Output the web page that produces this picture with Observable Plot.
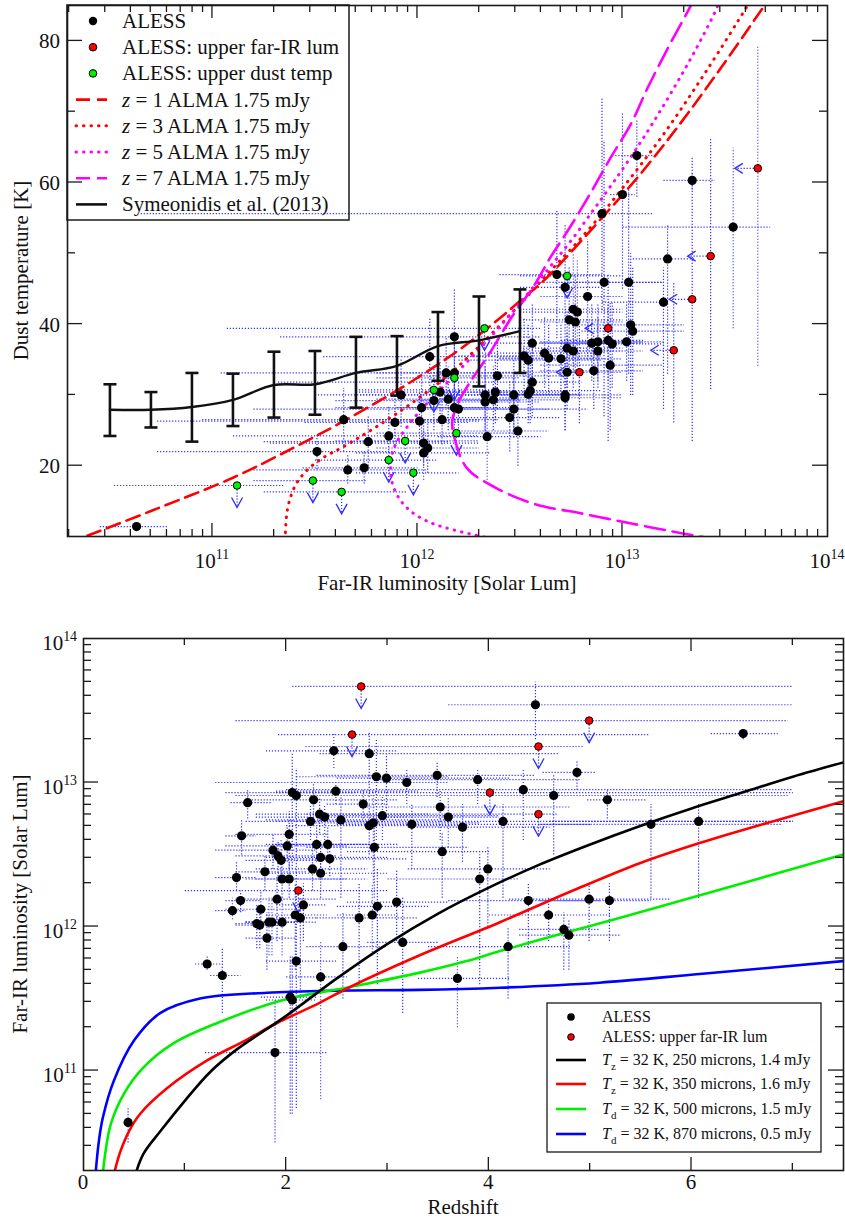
<!DOCTYPE html>
<html><head><meta charset="utf-8">
<script src="https://cdn.jsdelivr.net/npm/d3@7"></script>
<script src="https://cdn.jsdelivr.net/npm/@observablehq/plot@0.6"></script>
<style>
body{margin:0;background:#fff}
#c{width:845px;height:1219px;position:relative}
#c svg{display:block}
</style>
</head><body><div id="c"></div>
<script>
// ================= TOP PANEL DATA =================
// ALESS detections: [log10 L_FIR, T_dust, log10 L lo, log10 L hi, T lo, T hi]
const topDet = [
[10.63,11.4,10.45,10.78,11.0,11.8],[11.51,22.0,10.73,11.9,19.5,24.5],[11.66,19.4,11.2,12.05,17.5,21.5],
[11.74,19.7,11.44,12.0,17.5,22.0],[11.64,26.5,10.95,12.3,22.0,31.0],[11.76,23.4,11.25,12.15,20.0,27.0],
[11.86,24.2,11.1,12.3,20.5,28.5],[11.89,26.1,11.45,12.25,22.5,30.0],[11.92,30.0,11.5,12.4,25.5,35.0],
[12.02,28.2,11.6,12.35,24.0,32.5],[12.01,26.3,10.73,12.3,22.5,30.5],[12.03,23.2,11.28,12.3,20.0,26.5],
[12.05,22.5,11.8,12.3,19.0,26.0],[12.03,21.8,11.7,12.35,18.0,25.0],[12.08,29.2,11.6,12.5,25.0,34.0],
[12.06,35.4,11.54,12.5,30.0,41.0],[12.11,30.4,11.7,12.45,26.0,35.0],[12.14,33.1,11.8,12.5,28.5,38.0],
[12.15,29.4,11.8,12.5,25.0,34.0],[12.12,26.5,11.8,12.4,23.0,30.0],[12.18,38.2,11.33,12.6,32.0,45.0],
[12.18,33.1,11.04,12.5,28.0,38.0],[12.18,28.2,11.9,12.5,24.0,33.0],[12.20,28.0,11.2,12.64,24.0,32.0],
[12.33,30.0,11.72,12.7,25.0,36.0],[12.33,29.0,12.0,12.6,24.0,34.0],[12.34,24.1,12.1,12.6,18.0,30.0],
[12.37,29.3,12.0,12.7,25.0,34.0],[12.38,30.4,12.1,12.7,26.0,35.0],[12.39,32.7,12.0,12.7,28.0,38.0],
[12.47,30.0,12.1,12.8,25.0,35.0],[12.47,28.0,12.2,12.83,24.0,33.0],[12.45,26.8,12.1,12.7,22.0,32.0],
[12.49,24.9,12.2,12.64,20.0,30.0],[12.52,35.5,12.2,12.9,30.0,41.0],[12.54,34.9,12.2,12.9,30.0,40.0],
[12.56,37.3,12.3,12.95,32.0,43.0],[12.56,31.8,11.32,12.8,27.0,37.0],[12.54,30.1,12.3,12.8,26.0,35.0],
[12.55,30.6,12.3,12.9,26.0,36.0],[12.62,35.9,12.3,12.9,31.0,41.0],[12.64,35.2,12.4,12.9,30.0,40.0],
[12.70,35.1,12.4,13.0,30.0,40.0],[12.68,47.0,12.4,12.9,38.0,56.0],[12.72,45.2,12.5,12.9,36.0,54.0],
[12.83,43.9,12.6,13.0,35.0,52.0],[12.76,42.1,12.5,13.0,34.0,50.0],[12.78,41.7,12.5,13.0,34.0,49.0],
[12.74,40.6,12.5,13.0,33.0,48.0],[12.77,40.3,12.6,13.0,33.0,47.0],[12.91,45.9,12.6,13.2,27.0,66.0],
[13.03,45.9,12.7,13.2,33.0,59.0],[13.04,39.9,12.8,13.3,30.0,50.0],[13.05,39.0,12.8,13.3,30.0,48.0],
[12.73,36.6,12.5,13.0,31.0,42.0],[12.76,36.2,12.5,13.0,31.0,41.0],[12.85,37.3,12.6,13.1,32.0,43.0],
[12.88,37.5,12.6,13.1,32.0,43.0],[12.93,37.7,12.7,13.1,32.0,43.0],[12.95,37.2,12.7,13.2,31.0,43.0],
[12.88,36.2,12.6,13.1,31.0,41.0],[13.02,37.5,12.8,13.2,32.0,43.0],[12.94,34.2,12.6,13.2,25.0,43.0],
[12.73,33.2,12.4,13.0,28.0,39.0],[12.86,33.4,12.6,13.1,28.0,39.0],[12.72,30.0,12.4,13.0,25.0,35.0],
[12.72,29.6,12.4,13.0,25.0,35.0],[13.22,49.2,13.05,13.35,33.0,54.0],[13.20,43.1,12.9,13.2,28.0,48.0],
[13.54,53.7,13.0,13.72,39.4,64.9],[13.07,63.8,12.95,13.17,58.0,69.0],[13.00,58.3,12.94,13.06,45.0,70.0],
[12.90,55.6,10.65,13.15,42.0,72.0],[13.34,60.3,13.2,13.45,59.0,61.5]
];
// ALESS upper limits on far-IR luminosity: [log10 L, T, T lo, T hi]
const topUpperL = [
[12.93,39.4,23.5,47.0],[12.79,33.2,26.0,40.0],[13.43,49.6,30.8,66.2],
[13.34,43.5,23.5,63.7],[13.25,36.3,26.1,46.0],[13.66,62.0,34.1,79.4]
];
// ALESS upper limits on dust temperature: [log10 L, T, log10 L lo, log10 L hi]
const topUpperT = [
[11.12,17.2,10.52,11.35],[11.49,17.9,11.2,11.75],[11.63,16.3,11.25,11.95],[11.86,20.8,11.5,12.1],
[11.94,23.5,11.6,12.3],[11.98,19.0,11.7,12.2],[12.08,30.7,11.7,12.4],[12.18,32.4,11.8,12.5],
[12.19,24.6,11.8,12.5],[12.327,39.4,11.07,12.6],[12.73,46.8,12.5,13.0]
];
// Symeonidis et al. (2013)
const symLogL = [10.5,10.7,10.9,11.1,11.3,11.5,11.7,11.9,12.1,12.3,12.5];
const symT    = [27.9,27.9,28.3,29.3,31.4,31.5,33.1,34.1,36.9,37.7,39.0];
const symTlo  = [24.2,25.4,23.4,25.6,26.8,27.2,28.2,29.9,32.0,31.2,33.1];
const symThi  = [31.5,30.4,33.1,33.0,36.1,36.2,38.2,38.3,41.7,43.9,44.9];
// ALMA 1.75 mJy selection curves: [log10 L, T]
const almaZ1 = [[10.39,10.1],[10.7,13.6],[11.1,18.3],[11.4,22.6],[11.64,26.3],[11.95,31.5],[12.21,36.5],[12.4,40.8],[12.517,43.7],[12.615,46.1],[12.75,50.2],[12.893,54.8],[13.05,59.9],[13.16,63.8],[13.268,67.8],[13.478,76.1],[13.688,84.8],[13.72,86.1]];
const almaZ3 = [[11.355,9.5],[11.36,12.5],[11.375,15],[11.41,17.5],[11.47,19.6],[11.55,21.3],[11.64,22.7],[11.8,25.5],[11.98,29.0],[12.17,33.3],[12.35,38.3],[12.5,42.8],[12.61,46.3],[12.83,53.2],[13.0,59.2],[13.2,66.8],[13.41,75.8],[13.61,85],[13.65,87]];
const almaZ5 = [[12.36,9.7],[12.18,10.9],[12.06,12.0],[11.97,13.5],[11.91,15.4],[11.875,17.8],[11.87,20.3],[11.89,22.8],[11.95,25.5],[12.03,28.3],[12.13,31.3],[12.24,34.6],[12.36,38.3],[12.46,41.6],[12.55,44.7],[12.65,48.2],[12.76,52.2],[12.86,56.2],[12.95,59.8],[13.05,64.0],[13.15,68.5],[13.25,73.3],[13.35,78.4],[13.45,84.0],[13.48,86]];
const almaZ7 = [[13.35,86],[13.33,84.8],[13.22,78.9],[13.12,73.2],[13.04,68.2],[12.94,63.4],[12.84,58.3],[12.74,53.5],[12.65,49.5],[12.57,45.5],[12.46,41.0],[12.35,35.8],[12.25,31.5],[12.2,29.0],[12.17,26.3],[12.18,24.0],[12.24,19.7],[12.38,16.9],[12.57,14.6],[12.81,13.2],[13.05,11.8],[13.30,10.4],[13.4,9.9]];
const topXTicks = [11,12,13,14];      // labelled decades
const topYTicks = [20,40,60,80];
const topYMinor = [30,50,70];

// ================= BOTTOM PANEL DATA =================
// ALESS detections: [z, log10 L, z lo, z hi, log10 L lo, log10 L hi]
const botDet = [
[2.47,13.22,1.8,3.1,13.1,13.35],[2.82,13.20,2.33,4.68,12.9,13.35],[2.89,13.04,2.1,3.6,12.6,13.3],
[2.99,13.03,2.5,4.2,12.8,13.2],[3.19,13.00,1.3,3.6,12.85,13.1],[2.06,12.93,1.4,2.7,12.4,13.2],
[2.10,12.91,1.5,3.0,12.1,13.1],[2.49,12.94,1.9,3.3,12.85,13.0],[1.62,12.86,1.45,1.85,12.75,12.95],
[2.27,12.88,1.6,3.1,12.75,13.0],[2.76,12.85,2.4,3.0,12.75,12.95],[2.24,12.73,1.6,2.9,12.6,12.85],
[2.33,12.78,1.7,3.4,12.65,12.9],[2.38,12.76,1.7,3.2,12.6,12.85],[2.54,12.74,1.8,3.6,12.2,12.9],
[2.82,12.70,2.0,3.8,12.5,12.85],[2.86,12.72,2.2,3.9,12.3,12.95],[2.95,12.77,2.3,4.1,12.6,12.9],
[3.24,12.71,2.5,5.0,12.4,12.85],[1.56,12.63,1.4,1.7,12.5,12.75],[2.03,12.64,1.5,2.4,12.4,12.8],
[2.01,12.56,1.4,2.6,12.45,12.7],[1.87,12.53,1.3,2.3,12.4,12.65],[2.30,12.57,1.8,2.9,12.45,12.7],
[2.41,12.57,1.9,3.1,12.45,12.7],[2.87,12.55,2.2,3.8,12.2,12.7],[1.92,12.49,1.5,2.5,12.35,12.6],
[1.95,12.46,1.6,2.3,12.3,12.6],[2.34,12.48,1.8,3.0,12.35,12.6],[2.43,12.47,1.9,3.2,12.35,12.6],
[2.26,12.40,1.7,2.8,12.25,12.55],[2.34,12.37,1.8,3.0,12.2,12.5],[1.79,12.38,1.5,2.2,12.25,12.5],
[1.51,12.34,1.3,1.7,12.25,12.45],[1.96,12.33,1.6,2.6,12.2,12.45],[2.03,12.33,1.7,2.8,12.2,12.45],
[1.55,12.18,1.4,1.75,12.1,12.25],[1.91,12.19,1.5,2.5,11.9,12.35],[1.75,12.12,1.4,2.1,12.0,12.25],
[1.47,12.11,1.3,1.6,12.05,12.2],[2.17,12.15,1.9,2.4,11.9,12.3],[2.09,12.08,1.8,2.4,11.7,12.3],
[2.14,12.06,1.9,2.3,11.5,12.2],[1.96,12.03,1.6,2.3,11.8,12.2],[1.83,12.03,1.6,2.1,11.8,12.2],
[1.86,12.03,1.6,2.1,11.8,12.2],[1.71,12.02,1.5,1.95,11.85,12.15],[1.74,12.01,1.5,2.0,11.85,12.15],
[1.81,11.92,1.6,2.1,11.7,12.1],[2.10,11.76,1.8,2.5,10.74,12.1],[2.56,11.86,2.2,3.0,11.5,12.1],
[2.72,12.06,2.3,3.3,11.6,12.3],[2.85,12.08,2.5,3.1,11.8,12.3],[2.90,12.14,2.5,3.4,11.6,12.4],
[3.09,12.17,2.6,3.6,11.9,12.4],[3.15,11.89,2.8,3.5,11.4,12.2],[1.22,11.74,1.1,1.35,11.7,11.8],
[1.37,11.66,1.25,1.55,11.4,11.85],[2.04,11.51,1.75,2.3,10.7,11.8],[2.06,11.49,1.8,2.3,10.7,11.8],
[2.34,11.65,2.0,2.6,10.8,11.9],[1.89,11.125,1.2,2.4,10.5,11.5],[0.44,10.64,0.4,0.5,10.5,10.75],
[4.46,13.54,3.6,7.0,13.3,13.7],[6.51,13.34,6.19,6.85,13.3,13.38],[4.87,13.07,4.53,5.06,12.95,13.15],
[3.49,13.05,2.3,4.45,12.9,13.15],[3.89,13.02,2.9,4.9,12.85,13.1],[4.34,12.95,2.0,7.0,12.6,13.1],
[4.64,12.91,3.0,6.95,12.5,13.05],[5.17,12.88,4.97,5.56,12.75,12.95],[3.52,12.83,2.8,4.8,12.6,12.95],
[3.60,12.76,3.0,4.1,12.55,12.9],[3.74,12.69,3.2,4.6,12.45,12.85],[4.14,12.73,1.9,7.0,12.2,12.85],
[5.60,12.71,4.5,6.9,12.2,12.85],[6.07,12.73,4.6,7.0,12.2,12.85],[3.54,12.52,2.6,4.0,12.2,12.65],
[3.99,12.40,3.2,4.6,12.0,12.55],[3.91,12.33,3.0,4.3,11.6,12.5],[4.39,12.18,3.6,5.1,11.85,12.3],
[4.99,12.19,4.2,5.8,11.9,12.3],[5.19,12.18,4.5,5.6,11.9,12.3],[4.59,12.08,4.0,5.2,11.9,12.2],
[4.74,11.98,4.3,5.1,11.7,12.1],[4.79,11.94,4.3,5.3,11.7,12.05],[4.19,11.86,3.4,4.8,11.5,12.0],
[3.69,11.64,3.3,4.2,11.3,11.8]
];
// ALESS upper limits on far-IR luminosity: [z, log10 L, z lo, z hi]
const botUpperL = [
[2.74,13.667,2.06,7.0],[2.65,13.333,1.92,5.59],[4.49,13.25,2.19,4.93],[4.99,13.43,1.5,6.95],
[4.01,12.93,1.9,7.0],[4.49,12.78,2.2,4.68],[2.12,12.25,1.0,3.0]
];
// Selection curves: [z, log10 L]
const sel250 = [[0.50,10.25],[0.59,10.42],[0.76,10.58],[1.0,10.79],[1.25,10.99],[1.5,11.14],[2.0,11.38],[2.5,11.64],[3.0,11.88],[3.5,12.09],[4.0,12.27],[4.5,12.43],[5.0,12.57],[5.5,12.70],[6.0,12.82],[6.5,12.93],[7.0,13.04],[7.5,13.14]];
const sel350 = [[0.29,10.25],[0.36,10.43],[0.45,10.58],[0.56,10.70],[0.83,10.88],[1.22,11.07],[1.6,11.21],[1.91,11.33],[2.33,11.47],[2.6,11.57],[3.25,11.78],[4.11,12.03],[4.83,12.25],[5.49,12.44],[6.08,12.58],[6.8,12.73],[7.5,12.87]];
const sel500 = [[0.185,10.25],[0.22,10.45],[0.27,10.63],[0.40,10.84],[0.59,11.02],[0.89,11.19],[1.32,11.33],[1.97,11.49],[2.63,11.58],[3.32,11.68],[3.78,11.76],[4.11,11.83],[4.77,11.96],[5.19,12.04],[5.49,12.10],[6.6,12.32],[7.5,12.50]];
const sel870 = [[0.115,10.25],[0.15,10.5],[0.19,10.67],[0.30,10.93],[0.50,11.21],[0.76,11.40],[1.15,11.50],[1.81,11.54],[2.47,11.555],[3.32,11.56],[4.11,11.575],[5.09,11.61],[6.08,11.67],[7.5,11.76]];
const botXTicks = [0,2,4,6];
const botXMinor = [1,3,5,7];
const botYTicks = [11,12,13,14];

// ================= helpers =================
const FONT = "'Liberation Serif','DejaVu Serif',serif";
const p10 = e => Math.pow(10, e);
const EB = {stroke:"#3030ff", strokeWidth:1.2, strokeDasharray:"1.2,1.8"};
const BLUE = "#2a2aff";
const chevDown = {draw(c){c.moveTo(-5.5,12);c.lineTo(0,22);c.lineTo(5.5,12);}};
const stemDown = {draw(c){c.moveTo(0,4);c.lineTo(0,21);}};
const chevLeft = {draw(c){c.moveTo(-15,-5);c.lineTo(-23,0);c.lineTo(-15,5);}};
const stemLeft = {draw(c){c.moveTo(-4,0);c.lineTo(-22,0);}};
const capSym  = {draw(c){c.moveTo(-6.5,0);c.lineTo(6.5,0);}};

function scaleFn(s){
  if (typeof s.apply === "function") return v => s.apply(v);
  const f = (s.type === "log" ? d3.scaleLog() : d3.scaleLinear()).domain(s.domain).range(s.range);
  return f;
}
function logMinor(e0, e1){ const out=[]; for(let e=e0;e<=e1;e++) for(let k=2;k<=9;k++) out.push(k*p10(e)); return out; }

function frameTicks(chart, o){
  const svg = d3.select(chart);
  const xs = chart.scale("x"), ys = chart.scale("y");
  const sx = scaleFn(xs), sy = scaleFn(ys);
  const xl = Math.min(...xs.range), xr = Math.max(...xs.range);
  const yt = Math.min(...ys.range), yb = Math.max(...ys.range);
  const g = svg.append("g").attr("stroke","#1a1a1a").attr("stroke-width",1.3);
  const ln = (a,b,c,d) => g.append("line").attr("x1",a).attr("y1",b).attr("x2",c).attr("y2",d);
  const inX = p => p > xl+0.5 && p < xr-0.5, inY = p => p > yt+0.5 && p < yb-0.5;
  for (const [vals,len] of [[o.xMajor,o.xMajLen],[o.xMinor,o.xMinLen]])
    for (const v of vals){ const p=sx(v); if(!inX(p)) continue; ln(p,yb,p,yb-len); ln(p,yt,p,yt+len); }
  for (const [vals,len] of [[o.yMajor,o.yMajLen],[o.yMinor,o.yMinLen]])
    for (const v of vals){ const p=sy(v); if(!inY(p)) continue; ln(xl,p,xl+len,p); ln(xr,p,xr-len,p); }
  const t = svg.append("g").attr("font-family",FONT).attr("font-size",o.fs).attr("fill","#111");
  for (const v of o.xLabels){
    const p = sx(v.v);
    const tx = t.append("text").attr("x",p).attr("y",yb+o.xLabDy).attr("text-anchor","middle");
    tx.append("tspan").text(v.base);
    if (v.sup) tx.append("tspan").attr("dy",-9).attr("font-size",o.fs*0.66).text(v.sup);
  }
  for (const v of o.yLabels){
    const p = sy(v.v);
    const tx = t.append("text").attr("x",xl-o.yLabDx).attr("y",p+o.yLabDy).attr("text-anchor","end");
    tx.append("tspan").text(v.base);
    if (v.sup) tx.append("tspan").attr("dy",-9).attr("font-size",o.fs*0.66).text(v.sup);
  }
  t.append("text").attr("x",(xl+xr)/2).attr("y",o.xTitleY).attr("text-anchor","middle").text(o.xTitle);
  t.append("text").attr("transform",`translate(${o.yTitleX},${(yt+yb)/2}) rotate(-90)`).attr("text-anchor","middle").text(o.yTitle);
}

// ================= TOP PANEL =================
const tDet = topDet.map(([l,t,l0,l1,t0,t1]) => ({x:p10(l),y:t,x0:p10(l0),x1:p10(l1),y0:t0,y1:t1}));
const tUL  = topUpperL.map(([l,t,t0,t1]) => ({x:p10(l),y:t,y0:t0,y1:t1}));
const tUT  = topUpperT.map(([l,t,l0,l1]) => ({x:p10(l),y:t,x0:p10(l0),x1:p10(l1)}));
const sym  = symLogL.map((l,i) => ({x:p10(l),y:symT[i],y0:symTlo[i],y1:symThi[i]}));
const crv  = a => a.map(([l,t]) => ({x:p10(l),y:t}));

const topChart = Plot.plot({
  width:845, height:600, marginTop:5, marginRight:18, marginBottom:64, marginLeft:67,
  style:{fontFamily:FONT, background:"white", overflow:"visible"},
  x:{type:"log", domain:[p10(10.293), p10(14)], axis:null},
  y:{type:"linear", domain:[10,85], axis:null},
  marks:[
    Plot.link(tDet,{x1:"x0",x2:"x1",y1:"y",y2:"y",...EB,clip:true}),
    Plot.link(tDet,{x1:"x",x2:"x",y1:"y0",y2:"y1",...EB,clip:true}),
    Plot.link(tUL,{x1:"x",x2:"x",y1:"y0",y2:"y1",...EB,clip:true}),
    Plot.link(tUT,{x1:"x0",x2:"x1",y1:"y",y2:"y",...EB,clip:true}),
    Plot.dot(tUT,{x:"x",y:"y",symbol:stemDown,fill:"none",stroke:BLUE,strokeWidth:1.2,strokeDasharray:"1.2,1.8"}),
    Plot.dot(tUT,{x:"x",y:"y",symbol:chevDown,fill:"none",stroke:BLUE,strokeWidth:1.3}),
    Plot.dot(tUL,{x:"x",y:"y",symbol:stemLeft,fill:"none",stroke:BLUE,strokeWidth:1.2,strokeDasharray:"1.2,1.8"}),
    Plot.dot(tUL,{x:"x",y:"y",symbol:chevLeft,fill:"none",stroke:BLUE,strokeWidth:1.3}),
    Plot.line(crv(almaZ1),{x:"x",y:"y",curve:"catmull-rom",stroke:"#ff0000",strokeWidth:2.6,strokeDasharray:"14,7",clip:true}),
    Plot.line(crv(almaZ3),{x:"x",y:"y",curve:"catmull-rom",stroke:"#ff0000",strokeWidth:3,strokeDasharray:"0.5,7",strokeLinecap:"round",clip:true}),
    Plot.line(crv(almaZ5),{x:"x",y:"y",curve:"catmull-rom",stroke:"#ff00ff",strokeWidth:3,strokeDasharray:"0.5,7",strokeLinecap:"round",clip:true}),
    Plot.line(crv(almaZ7),{x:"x",y:"y",curve:"catmull-rom",stroke:"#ff00ff",strokeWidth:2.6,strokeDasharray:"20,8",clip:true}),
    Plot.line(sym,{x:"x",y:"y",curve:"catmull-rom",stroke:"#111",strokeWidth:2.4}),
    Plot.link(sym,{x1:"x",x2:"x",y1:"y0",y2:"y1",stroke:"#111",strokeWidth:2.6}),
    Plot.dot(sym,{x:"x",y:"y0",symbol:capSym,fill:"none",stroke:"#111",strokeWidth:2.6}),
    Plot.dot(sym,{x:"x",y:"y1",symbol:capSym,fill:"none",stroke:"#111",strokeWidth:2.6}),
    Plot.dot(tDet,{x:"x",y:"y",r:4.6,fill:"#000"}),
    Plot.dot(tUL,{x:"x",y:"y",r:3.8,fill:"#ff0000",stroke:"#000",strokeWidth:1}),
    Plot.dot(tUT,{x:"x",y:"y",r:3.8,fill:"#00ee00",stroke:"#000",strokeWidth:1}),
    Plot.frame({stroke:"#1a1a1a",strokeWidth:1.6})
  ]
});
frameTicks(topChart,{
  xMajor:[1e10,1e11,1e12,1e13,1e14], xMinor:logMinor(10,13), xMajLen:13, xMinLen:7,
  yMajor:topYTicks, yMinor:topYMinor, yMajLen:15, yMinLen:8,
  xLabels:topXTicks.map(e=>({v:p10(e),base:"10",sup:String(e)})), xLabDy:32,
  yLabels:topYTicks.map(v=>({v,base:String(v)})), yLabDx:7, yLabDy:8,
  fs:21, xTitle:"Far-IR luminosity [Solar Lum]", xTitleY:590,
  yTitle:"Dust temperature [K]", yTitleX:28
});
{
  const L = d3.select(topChart).append("g").attr("font-family",FONT).attr("font-size",21).attr("fill","#111").attr("text-anchor","start");
  L.append("rect").attr("x",67).attr("y",5).attr("width",282).attr("height",215).attr("fill","none").attr("stroke","#1a1a1a").attr("stroke-width",1.5);
  const items = [
    {k:"dot",fill:"#000",r:4.2,label:"ALESS"},
    {k:"dot",fill:"#ff0000",r:3.8,st:true,label:"ALESS: upper far-IR lum"},
    {k:"dot",fill:"#00ee00",r:3.8,st:true,label:"ALESS: upper dust temp"},
    {k:"line",stroke:"#ff0000",dash:"14,7",z:"1"},
    {k:"line",stroke:"#ff0000",dash:"0.5,7",round:true,z:"3"},
    {k:"line",stroke:"#ff00ff",dash:"0.5,7",round:true,z:"5"},
    {k:"line",stroke:"#ff00ff",dash:"14,7",z:"7"},
    {k:"line",stroke:"#111",dash:null,label:"Symeonidis et al. (2013)"}
  ];
  items.forEach((it,i)=>{
    const y = 21 + i*26.2;
    if (it.k==="dot") L.append("circle").attr("cx",93).attr("cy",y).attr("r",it.r).attr("fill",it.fill).attr("stroke",it.st?"#000":"none");
    else L.append("line").attr("x1",76).attr("x2",107).attr("y1",y).attr("y2",y).attr("stroke",it.stroke).attr("stroke-width",it.round?3:2.6).attr("stroke-dasharray",it.dash).attr("stroke-linecap",it.round?"round":"butt");
    const tx = L.append("text").attr("x",122).attr("y",y+7).attr("text-anchor","start");
    if (it.z){ tx.append("tspan").attr("font-style","italic").text("z"); tx.append("tspan").text(` = ${it.z} ALMA 1.75 mJy`); }
    else tx.text(it.label);
  });
}

// ================= BOTTOM PANEL =================
const bDet = botDet.map(([z,l,z0,z1,l0,l1]) => ({x:z,y:p10(l),x0:z0,x1:z1,y0:p10(l0),y1:p10(l1)}));
const bUL  = botUpperL.map(([z,l,z0,z1]) => ({x:z,y:p10(l),x0:z0,x1:z1}));
const sc   = a => a.map(([z,l]) => ({x:z,y:p10(l)}));

const botChart = Plot.plot({
  width:845, height:619, marginTop:38, marginRight:2, marginBottom:49, marginLeft:83,
  style:{fontFamily:FONT, background:"white", overflow:"visible"},
  x:{type:"linear", domain:[0,7.5], axis:null},
  y:{type:"log", domain:[p10(10.306), p10(14)], axis:null},
  marks:[
    Plot.link(bDet,{x1:"x0",x2:"x1",y1:"y",y2:"y",...EB,clip:true}),
    Plot.link(bDet,{x1:"x",x2:"x",y1:"y0",y2:"y1",...EB,clip:true}),
    Plot.link(bUL,{x1:"x0",x2:"x1",y1:"y",y2:"y",...EB,clip:true}),
    Plot.dot(bUL,{x:"x",y:"y",symbol:stemDown,fill:"none",stroke:BLUE,strokeWidth:1.2,strokeDasharray:"1.2,1.8"}),
    Plot.dot(bUL,{x:"x",y:"y",symbol:chevDown,fill:"none",stroke:BLUE,strokeWidth:1.3}),
    Plot.line(sc(sel870),{x:"x",y:"y",curve:"catmull-rom",stroke:"#0000ff",strokeWidth:2.6,clip:true}),
    Plot.line(sc(sel500),{x:"x",y:"y",curve:"catmull-rom",stroke:"#00ee00",strokeWidth:2.6,clip:true}),
    Plot.line(sc(sel350),{x:"x",y:"y",curve:"catmull-rom",stroke:"#ff0000",strokeWidth:2.6,clip:true}),
    Plot.line(sc(sel250),{x:"x",y:"y",curve:"catmull-rom",stroke:"#000",strokeWidth:2.6,clip:true}),
    Plot.dot(bDet,{x:"x",y:"y",r:4.6,fill:"#000"}),
    Plot.dot(bUL,{x:"x",y:"y",r:3.8,fill:"#ff0000",stroke:"#000",strokeWidth:1}),
    Plot.frame({stroke:"#1a1a1a",strokeWidth:1.6})
  ]
});
frameTicks(botChart,{
  xMajor:botXTicks, xMinor:botXMinor, xMajLen:13, xMinLen:7,
  yMajor:[1e11,1e12,1e13,1e14], yMinor:logMinor(10,13), yMajLen:15, yMinLen:8,
  xLabels:botXTicks.map(v=>({v,base:String(v)})), xLabDy:19,
  yLabels:botYTicks.map(e=>({v:p10(e),base:"10",sup:String(e)})), yLabDx:6, yLabDy:12,
  fs:21, xTitle:"Redshift", xTitleY:614,
  yTitle:"Far-IR luminosity [Solar Lum]", yTitleX:27
});
{
  const L = d3.select(botChart).append("g").attr("font-family",FONT).attr("font-size",16).attr("fill","#111").attr("text-anchor","start");
  L.append("rect").attr("x",547).attr("y",403).attr("width",274).attr("height",149).attr("fill","white").attr("stroke","#1a1a1a").attr("stroke-width",1.3);
  const rows = [
    {k:"dot",fill:"#000",y:417,label:"ALESS"},
    {k:"dot",fill:"#ff0000",st:true,y:437,label:"ALESS: upper far-IR lum"},
    {k:"line",stroke:"#000",y:460,sub:"z",rest:" = 32 K, 250 microns, 1.4 mJy"},
    {k:"line",stroke:"#ff0000",y:484,sub:"z",rest:" = 32 K, 350 microns, 1.6 mJy"},
    {k:"line",stroke:"#00ee00",y:509,sub:"d",rest:" = 32 K, 500 microns, 1.5 mJy"},
    {k:"line",stroke:"#0000ff",y:534,sub:"d",rest:" = 32 K, 870 microns, 0.5 mJy"}
  ];
  for (const r of rows){
    if (r.k==="dot") L.append("circle").attr("cx",571).attr("cy",r.y).attr("r",r.st?3.3:3.8).attr("fill",r.fill).attr("stroke",r.st?"#000":"none");
    else L.append("line").attr("x1",556).attr("x2",586).attr("y1",r.y).attr("y2",r.y).attr("stroke",r.stroke).attr("stroke-width",2.6);
    const tx = L.append("text").attr("x",602).attr("y",r.y+5).attr("text-anchor","start");
    if (r.sub){
      tx.append("tspan").attr("font-style","italic").text("T");
      tx.append("tspan").attr("dy",5).attr("font-size",11).text(r.sub);
      tx.append("tspan").attr("dy",-5).text(r.rest);
    } else tx.text(r.label);
  }
}

const c = document.getElementById("c");
c.appendChild(topChart);
c.appendChild(botChart);
</script>
</body></html>
